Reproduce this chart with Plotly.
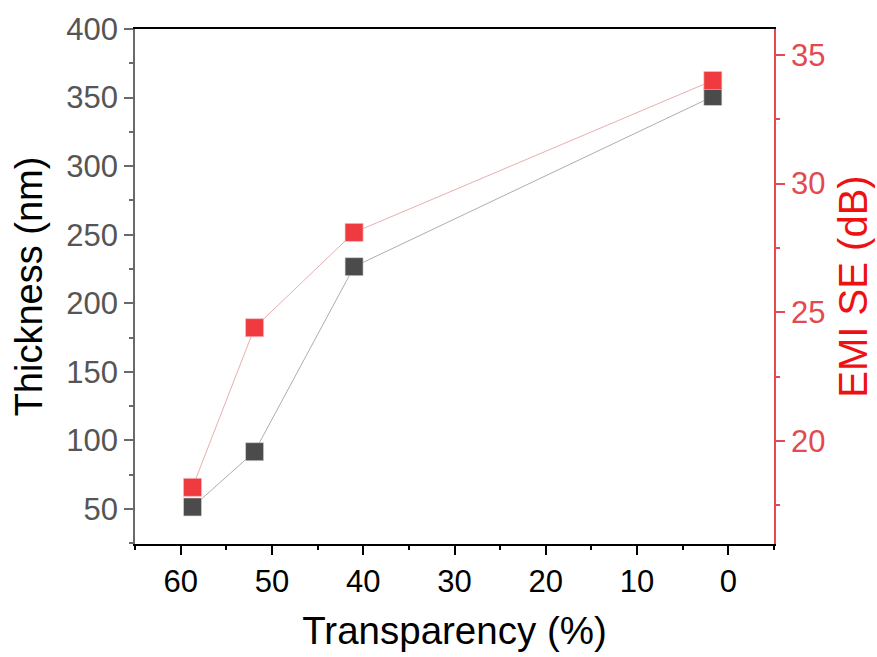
import plotly.graph_objects as go

transparency = [58.7, 51.9, 41.0, 1.7]
thickness = [51.5, 91.8, 226.7, 350.8]
emi_se = [18.2, 24.4, 28.1, 34.0]

FONT = "Arial, Liberation Sans, sans-serif"
BLACK_M = "#4b4b4b"
RED_M = "#ef3b40"
RED_AX = "#e24a4f"

fig = go.Figure()
fig.add_trace(go.Scatter(
    x=transparency, y=thickness, mode="lines+markers",
    line=dict(color="#8a8a8a", width=0.7),
    marker=dict(symbol="square", size=18, color=BLACK_M,
                line=dict(color="#d9d9d9", width=0.6)),
    showlegend=False, yaxis="y"))
fig.add_trace(go.Scatter(
    x=transparency, y=emi_se, mode="lines+markers",
    line=dict(color="#e08a8c", width=0.7),
    marker=dict(symbol="square", size=18, color=RED_M,
                line=dict(color="#f3c0c2", width=0.6)),
    showlegend=False, yaxis="y2"))

fig.update_layout(
    width=877, height=657,
    margin=dict(l=135, r=103, t=29, b=113),
    paper_bgcolor="white", plot_bgcolor="white",
    font=dict(family=FONT),
    xaxis=dict(
        range=[65, -5], tickmode="linear", tick0=0, dtick=10,
        showgrid=False, zeroline=False, automargin=False,
        showline=True, linecolor="black", linewidth=1.5, mirror=True,
        ticks="outside", ticklen=9, tickwidth=1.5, tickcolor="black",
        minor=dict(ticks="outside", ticklen=4, tickwidth=1.5, tickcolor="black", dtick=5, tick0=0),
        tickfont=dict(size=31, color="black", family=FONT),
        title=dict(text="Transparency (%)", font=dict(size=38.5, color="black", family=FONT), standoff=19),
    ),
    yaxis=dict(
        range=[24.5, 400], tickmode="linear", tick0=0, dtick=50,
        showgrid=False, zeroline=False, automargin=False,
        showline=True, linecolor="#6a6a6a", linewidth=1.5,
        ticks="outside", ticklen=9, tickwidth=1.5, tickcolor="#6a6a6a",
        minor=dict(ticks="outside", ticklen=4, tickwidth=1.5, tickcolor="#6a6a6a", dtick=25, tick0=0),
        tickfont=dict(size=31, color="#555555", family=FONT),
        title=dict(text="Thickness (nm)", font=dict(size=38, color="black", family=FONT), standoff=12),
    ),
    yaxis2=dict(
        overlaying="y", side="right",
        range=[16, 36], tickmode="linear", tick0=0, dtick=5,
        showgrid=False, zeroline=False, automargin=False,
        showline=True, linecolor=RED_AX, linewidth=1.5,
        ticks="outside", ticklen=9, tickwidth=1.5, tickcolor=RED_AX,
        minor=dict(ticks="outside", ticklen=4, tickwidth=1.5, tickcolor=RED_AX, dtick=2.5, tick0=0),
        tickfont=dict(size=31, color=RED_AX, family=FONT),
        title=dict(text="EMI SE (dB)", font=dict(size=40, color="#ee1111", family=FONT), standoff=15),
    ),
)

fig.write_html("out.html")
